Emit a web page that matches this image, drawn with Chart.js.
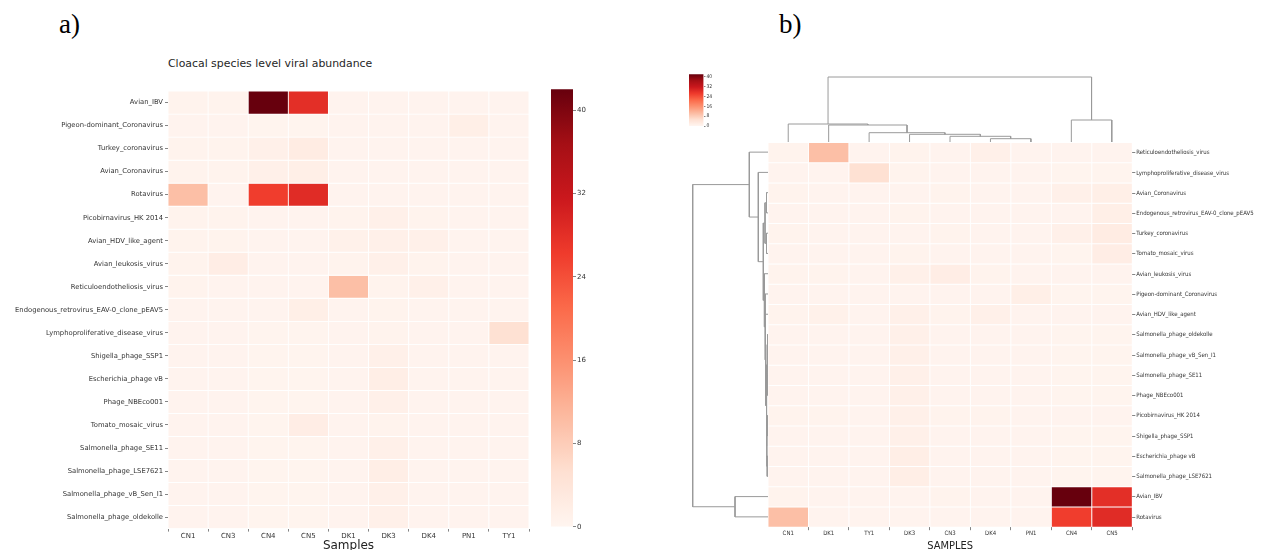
<!DOCTYPE html>
<html><head><meta charset="utf-8">
<script src="https://cdn.jsdelivr.net/npm/chart.js@4.4.1/dist/chart.umd.min.js"></script>
<style>
html,body{margin:0;padding:0;background:#fff;overflow:hidden;width:1267px;height:550px;}
canvas{position:absolute;}
.lbl{position:absolute;font-family:"Liberation Serif","Times New Roman",serif;font-size:27px;color:#000;line-height:1;}
#titleA{position:absolute;left:168px;top:59px;font-family:"DejaVu Sans",sans-serif;font-size:10.9px;color:#262626;white-space:nowrap;line-height:1;}
</style></head><body>
<div class="lbl" style="left:59px;top:11px">a)</div>
<div class="lbl" style="left:779px;top:11px">b)</div>
<div id="titleA">Cloacal species level viral abundance</div>
<canvas id="heatA"></canvas>
<canvas id="barA"></canvas>
<canvas id="heatB"></canvas>
<canvas id="barB"></canvas>
<canvas id="dendCol"></canvas>
<canvas id="dendRow"></canvas>
<script>
// ---------------- DATA ----------------
const samples = ['CN1','CN3','CN4','CN5','DK1','DK3','DK4','PN1','TY1'];
const viruses = ['Avian_IBV','Pigeon-dominant_Coronavirus','Turkey_coronavirus','Avian_Coronavirus','Rotavirus',
  'Picobirnavirus_HK 2014','Avian_HDV_like_agent','Avian_leukosis_virus','Reticuloendotheliosis_virus',
  'Endogenous_retrovirus_EAV-0_clone_pEAV5','Lymphoproliferative_disease_virus','Shigella_phage_SSP1',
  'Escherichia_phage vB','Phage_NBEco001','Tomato_mosaic_virus','Salmonella_phage_SE11',
  'Salmonella_phage_LSE7621','Salmonella_phage_vB_Sen_I1','Salmonella_phage_oldekolle'];
// abundance per sample, in the order of `viruses`
const CN1 = [0.5,0.4,0.5,0.5,10,0.5,0.5,0.5,0.5,0.4,0.4,0.4,0.4,0.4,0.4,0.4,0.4,0.4,0.4];
const CN3 = [0.5,0.4,0.5,0.5,0.4,0.5,0.5,2.0,0.4,0.4,0.4,0.4,0.4,0.4,0.4,0.4,0.4,0.4,0.4];
const CN4 = [42,0.3,1.2,1.2,26,0.4,0.4,0.4,0.4,0.4,0.3,0.3,0.3,0.3,0.3,0.3,0.3,0.3,0.3];
const CN5 = [28,0.3,2.2,1.5,28.5,0.4,0.4,0.4,0.4,1.5,0.3,0.3,0.3,0.3,2.0,0.3,0.3,0.3,0.3];
const DK1 = [0.4,0.4,0.4,0.4,0.4,0.5,1.0,0.5,10,0.4,0.4,0.4,0.4,0.4,0.4,0.4,0.4,0.4,0.4];
const DK3 = [0.4,0.4,0.4,0.4,0.4,1.2,1.3,1.3,0.5,0.5,0.5,1.2,1.8,1.2,0.5,1.2,1.8,1.2,1.2];
const DK4 = [0.4,0.4,0.4,0.4,0.4,0.5,1.2,0.5,1.3,0.4,0.4,0.4,0.4,0.4,0.4,0.4,0.4,0.4,0.4];
const PN1 = [0.4,1.5,0.4,0.4,0.4,0.4,0.4,0.4,0.4,0.4,0.4,0.4,0.4,0.4,0.4,0.4,0.4,0.4,0.4];
const TY1 = [0.4,0.4,0.4,0.4,0.4,0.4,0.4,0.4,0.4,0.4,5.0,0.4,0.4,0.4,0.4,0.4,0.4,0.4,0.4];
const colorbarTicks = [0,8,16,24,32,40];
const colorMin = 0, colorMax = 42;
// clustered order (panel b)
const samplesB = ['CN1','DK1','TY1','DK3','CN3','DK4','PN1','CN4','CN5'];
const virusesB = ['Reticuloendotheliosis_virus','Lymphoproliferative_disease_virus','Avian_Coronavirus',
  'Endogenous_retrovirus_EAV-0_clone_pEAV5','Turkey_coronavirus','Tomato_mosaic_virus','Avian_leukosis_virus',
  'Pigeon-dominant_Coronavirus','Avian_HDV_like_agent','Salmonella_phage_oldekolle','Salmonella_phage_vB_Sen_I1',
  'Salmonella_phage_SE11','Phage_NBEco001','Picobirnavirus_HK 2014','Shigella_phage_SSP1','Escherichia_phage vB',
  'Salmonella_phage_LSE7621','Avian_IBV','Rotavirus'];
// linkage [childA, childB, height] (scipy-style node numbering)
const colLinkage = [[5,6,3.3],[4,9,5.7],[3,10,7.7],[2,11,9.3],[1,12,17],[0,13,18],[7,8,22],[14,15,65]];
const rowLinkage = [[2,3,1.5],[4,5,1.5],[19,20,3.0],[9,10,0.5],[11,12,0.5],[13,14,0.5],[15,16,0.8],
  [22,23,1.0],[24,25,1.2],[26,27,1.6],[8,28,2.5],[7,29,3.0],[6,30,3.6],[21,31,4.7],[1,32,9.7],
  [0,33,18.7],[17,18,33],[34,35,75.3]];

// ---------------- HELPERS ----------------
const bySample = {CN1,CN3,CN4,CN5,DK1,DK3,DK4,PN1,TY1};
const value = (virus, sample) => bySample[sample][viruses.indexOf(virus)];
const REDS = ['#fff5f0','#fee0d2','#fcbba1','#fc9272','#fb6a4a','#ef3b2c','#cb181d','#a50f15','#67000d'];
function hex2rgb(h){return [1,3,5].map(i=>parseInt(h.substr(i,2),16));}
function reds(t){
  t = Math.max(0, Math.min(1, t));
  const p = t*(REDS.length-1), i = Math.min(Math.floor(p), REDS.length-2), f = p-i;
  const a = hex2rgb(REDS[i]), b = hex2rgb(REDS[i+1]);
  return 'rgb(' + a.map((v,k)=>Math.round(v+(b[k]-v)*f)).join(',') + ')';
}
const colorOf = v => reds((v-colorMin)/(colorMax-colorMin));
function place(id, left, top, w, h){
  const c = document.getElementById(id);
  c.width = w; c.height = h; c.style.left = left+'px'; c.style.top = top+'px';
  c.style.width = w+'px'; c.style.height = h+'px';
  return c;
}
Chart.defaults.font.family = '"DejaVu Sans", sans-serif';
Chart.defaults.color = '#262626';
Chart.defaults.animation = false;
Chart.defaults.responsive = false;
Chart.defaults.devicePixelRatio = 1;
Chart.defaults.plugins.legend.display = false;
Chart.defaults.plugins.tooltip.enabled = false;
const condensed = '"DejaVu Sans Condensed", "DejaVu Sans", sans-serif';

function heatmap(canvas, rows, cols, opt){
  const datasets = rows.map((v, r) => ({
    label: v,
    data: cols.map(() => [r - 0.5, r + 0.5]),
    backgroundColor: cols.map(s => colorOf(value(v, s))),
    borderColor: '#ffffff', borderWidth: 0.8, borderSkipped: false,
    barPercentage: 1, categoryPercentage: 1
  }));
  return new Chart(canvas, {
    type: 'bar',
    data: {labels: cols, datasets},
    options: {
      layout: {padding: opt.padding},
      scales: {
        x: {type: 'category', stacked: true,
          afterFit: s => { s.height = opt.xHeight; },
          grid: {drawOnChartArea: false, drawTicks: true, tickLength: 3, color: '#666', lineWidth: 0.8},
          border: {display: false},
          ticks: {font: {size: opt.tickSize, family: opt.family}, padding: 0, color: '#333', maxRotation: 0},
          title: {display: true, text: opt.xTitle, font: {size: opt.titleSize, family: opt.family}, padding: 0, color: '#222'}
        },
        y: {type: 'linear', position: opt.yPos, min: -0.5, max: rows.length - 0.5, reverse: true,
          afterFit: s => { s.width = opt.yWidth; },
          afterBuildTicks: s => { s.ticks = rows.map((_, i) => ({value: i})); },
          grid: {drawOnChartArea: false, drawTicks: true, tickLength: 3, color: '#666', lineWidth: 0.8},
          border: {display: false},
          ticks: {autoSkip: false, font: {size: opt.yTickSize, family: opt.family}, padding: opt.yPad, color: '#333',
            callback: v => rows[v]}
        }
      }
    }
  });
}

function colorbar(canvas, opt){
  return new Chart(canvas, {
    type: 'bar',
    data: {labels: [''], datasets: [{
      data: [[colorMin, colorMax]], barPercentage: 1, categoryPercentage: 1, borderWidth: 0,
      backgroundColor: ctx => {
        const a = ctx.chart.chartArea; if (!a) return REDS[0];
        const g = ctx.chart.ctx.createLinearGradient(0, a.bottom, 0, a.top);
        for (let i = 0; i <= 40; i++) g.addColorStop(i/40, reds(i/40));
        return g;
      }
    }]},
    options: {
      layout: {padding: opt.padding},
      scales: {
        x: {display: false},
        y: {position: 'right', min: colorMin, max: colorMax,
          afterFit: s => { s.width = opt.yWidth; },
          afterBuildTicks: s => { s.ticks = colorbarTicks.map(v => ({value: v})); },
          grid: {drawOnChartArea: false, tickLength: opt.tickLen, color: '#666', lineWidth: 0.8},
          border: {display: false},
          ticks: {font: {size: opt.tickSize, family: opt.family}, padding: 1, color: '#333'}
        }
      }
    }
  });
}

function dendroSegments(n, links){
  const pos = [], hgt = [];
  for (let i = 0; i < n; i++){ pos[i] = i; hgt[i] = 0; }
  return links.map(([a, b, h], k) => {
    const seg = [[pos[a], hgt[a]], [pos[a], h], [pos[b], h], [pos[b], hgt[b]]];
    pos[n + k] = (pos[a] + pos[b]) / 2; hgt[n + k] = h;
    return seg;
  });
}
function dendrogram(canvas, n, links, vertical, hMax){
  const segs = dendroSegments(n, links);
  const datasets = segs.map(seg => ({
    data: seg.map(([p, h]) => vertical ? {x: p, y: h} : {x: h, y: p}),
    showLine: true, pointRadius: 0, borderColor: '#9a9a9a', borderWidth: 1, fill: false, clip: false
  }));
  const posScale = {type: 'linear', display: false, min: -0.5, max: n - 0.5};
  const hScale = {type: 'linear', display: false, min: 0, max: hMax};
  return new Chart(canvas, {
    type: 'scatter', data: {datasets},
    options: {layout: {padding: 0},
      scales: vertical ? {x: posScale, y: hScale} : {x: {...hScale, reverse: true}, y: {...posScale, reverse: true}}}
  });
}

// ---------------- PANEL A ----------------
heatmap(place('heatA', 0, 85, 532, 468), viruses, samples, {
  padding: {top: 4.4, right: 3, left: 0, bottom: 0}, xHeight: 24.4, yWidth: 168, yPos: 'left', yPad: 2,
  tickSize: 7, yTickSize: 6.8, titleSize: 12, xTitle: 'Samples', family: '"DejaVu Sans", sans-serif'
});
colorbar(place('barA', 551, 84, 52, 448), {
  padding: {top: 4.3, bottom: 4.7, left: 0, right: 0}, yWidth: 30, tickLen: 3, tickSize: 7,
  family: '"DejaVu Sans", sans-serif'
});

// ---------------- PANEL B ----------------
heatmap(place('heatB', 768, 138, 499, 415), virusesB, samplesB, {
  padding: {top: 4, right: 0, left: 0, bottom: 0}, xHeight: 25.8, yWidth: 134.7, yPos: 'right', yPad: 1,
  tickSize: 6, yTickSize: 6, titleSize: 11, xTitle: 'SAMPLES', family: condensed
});
colorbar(place('barB', 689, 70, 40, 60), {
  padding: {top: 4.2, bottom: 4, left: 0, right: 0}, yWidth: 25.5, tickLen: 2, tickSize: 5, family: condensed
});
dendrogram(place('dendCol', 768, 70, 364, 72), samplesB.length, colLinkage, true, 72);
dendrogram(place('dendRow', 685, 142, 83, 385), virusesB.length, rowLinkage, false, 83);
</script>
</body></html>
